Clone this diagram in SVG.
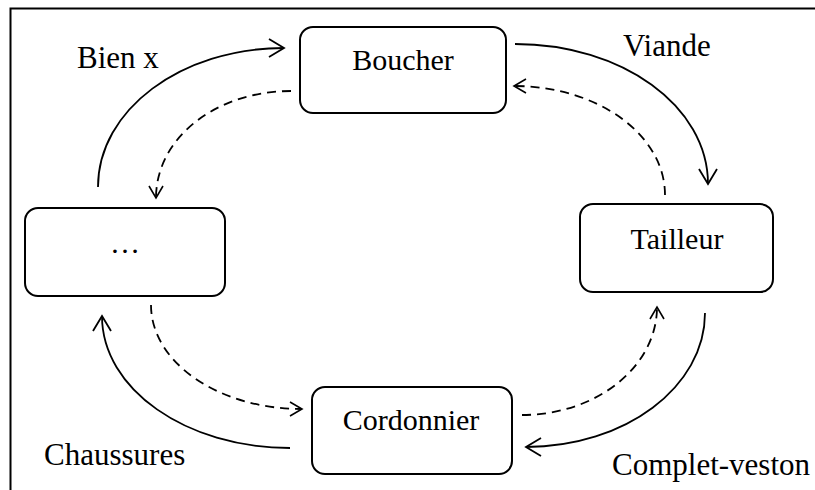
<svg xmlns="http://www.w3.org/2000/svg" width="815" height="490" viewBox="0 0 815 490">
<defs>
<style>
.box{fill:#fff;stroke:#000;stroke-width:2}
.t{font-family:"Liberation Serif","Times New Roman",serif;font-size:30px;fill:#000}
.lbl{font-family:"Liberation Serif","Times New Roman",serif;font-size:31px;fill:#000}
.solid{fill:none;stroke:#000;stroke-width:1.8}
.dash{fill:none;stroke:#000;stroke-width:1.8;stroke-dasharray:9 6}
</style>
<marker id="ah" markerUnits="userSpaceOnUse" markerWidth="20" markerHeight="22" refX="16" refY="10" orient="auto" overflow="visible">
<path d="M1,1 L16,10 L1,19" fill="none" stroke="#000" stroke-width="1.8"/>
</marker>
<marker id="ahd" markerUnits="userSpaceOnUse" markerWidth="18" markerHeight="18" refX="13" refY="8" orient="auto" overflow="visible">
<path d="M1,1 L13,8 L1,15" fill="none" stroke="#000" stroke-width="1.6"/>
</marker>
</defs>
<rect width="815" height="490" fill="#fff"/>
<g id="frame">
<path d="M815,8.5 L10.5,8.5 L10.5,490" fill="none" stroke="#000" stroke-width="2"/>
</g>
<g id="connectors">
<path class="solid" d="M98,187 C98,110 181,48 284,48" marker-end="url(#ah)"/>
<path class="solid" d="M515,44 C622,44 708,106 708,184" marker-end="url(#ah)"/>
<path class="solid" d="M705,313 C705,387 625,447 526,447" marker-end="url(#ah)"/>
<path class="solid" d="M290,448 C186,448 102,389 102,316" marker-end="url(#ah)"/>
<path class="dash" d="M291,91 C216,91 156,138 156,198" marker-end="url(#ahd)"/>
<path class="dash" d="M665,195 C665,135 598,86 514,86" marker-end="url(#ahd)"/>
<path class="dash" d="M151,305 C151,362 218,409 302,409" marker-end="url(#ahd)"/>
<path class="dash" d="M522,415 C596,415 657,367 657,307" marker-end="url(#ahd)"/>
</g>
<g id="boucher">
<rect class="box" x="300" y="27" width="206" height="86" rx="13"/>
<text class="t" x="403" y="70" text-anchor="middle">Boucher</text>
</g>
<g id="tailleur">
<rect class="box" x="580" y="204" width="193" height="88" rx="13"/>
<text class="t" x="677" y="249" text-anchor="middle">Tailleur</text>
</g>
<g id="autre">
<rect class="box" x="25" y="208" width="200" height="88" rx="13"/>
<text class="t" x="125" y="253" text-anchor="middle">…</text>
</g>
<g id="cordonnier">
<rect class="box" x="312" y="387" width="200" height="87" rx="13"/>
<text class="t" x="411" y="430" text-anchor="middle">Cordonnier</text>
</g>
<g id="labels">
<text class="lbl" x="77" y="68">Bien x</text>
<text class="lbl" x="623" y="56">Viande</text>
<text class="lbl" x="44" y="465">Chaussures</text>
<text class="lbl" x="612" y="475">Complet-veston</text>
</g>
</svg>
